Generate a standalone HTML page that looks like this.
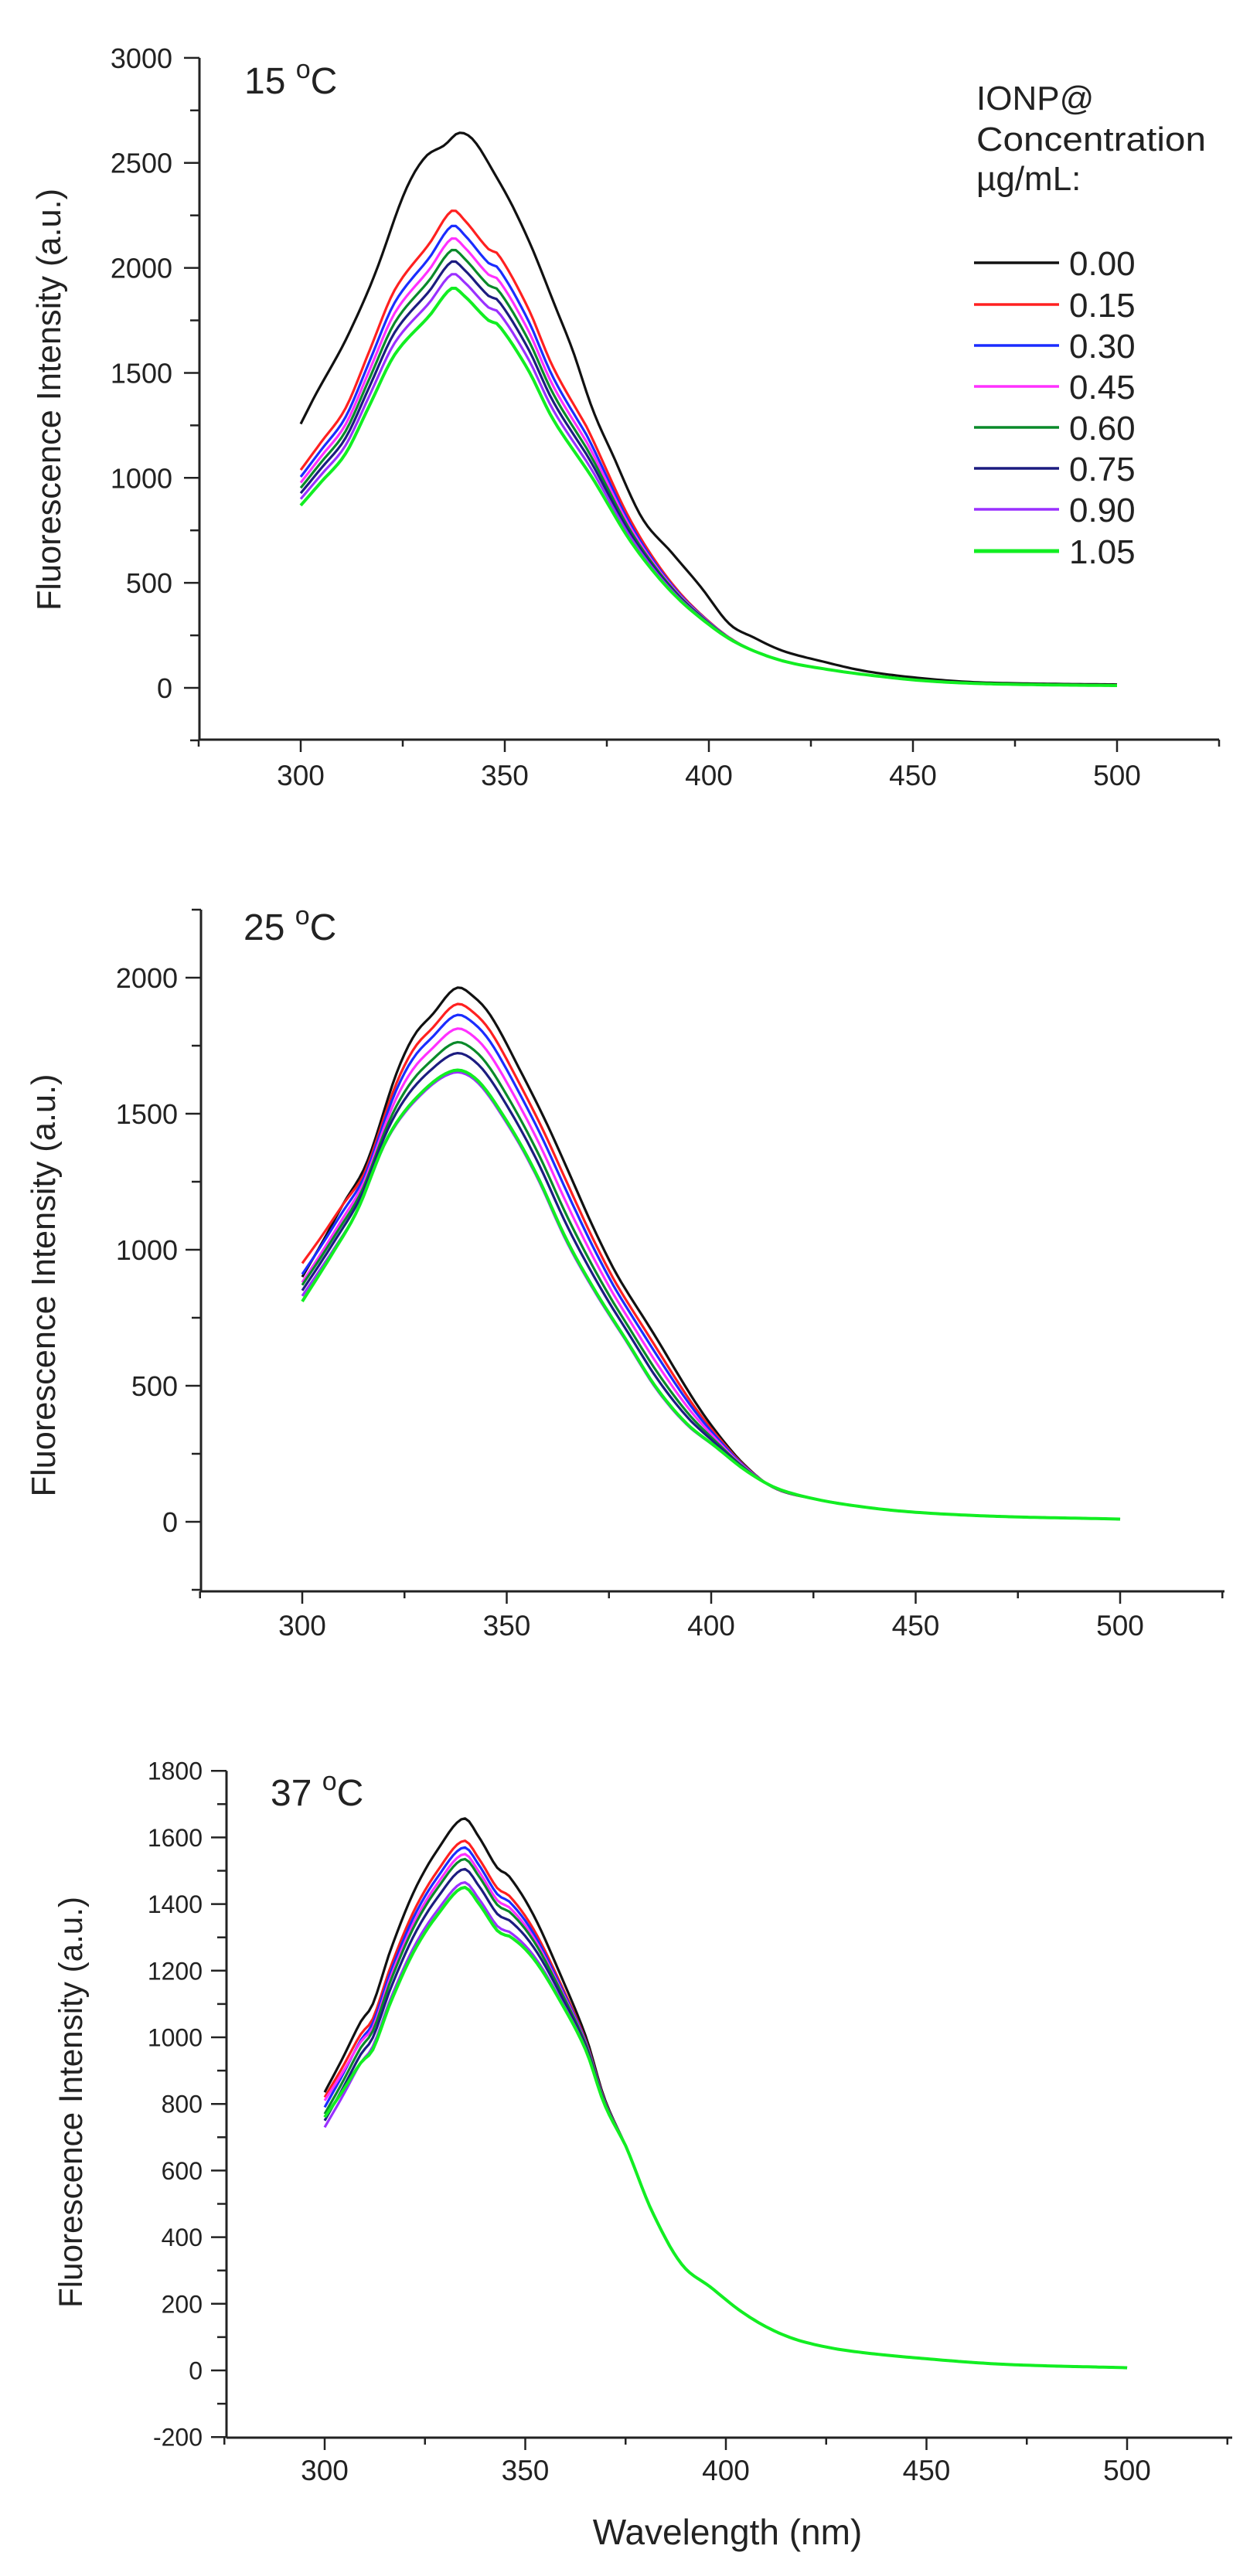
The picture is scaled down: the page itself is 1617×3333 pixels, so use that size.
<!DOCTYPE html>
<html><head><meta charset="utf-8">
<style>
html,body{margin:0;padding:0;background:#fff;}
svg{display:block;}
text{font-family:"Liberation Sans",Arial,sans-serif;fill:#222;}
</style></head>
<body>
<svg id="s" width="1617" height="3333" viewBox="0 0 1617 3333" xmlns="http://www.w3.org/2000/svg">
<rect width="1617" height="3333" fill="#fff"/>
<g id="g"></g>
<!-- titles -->
<text x="316" y="121" font-size="48">15 <tspan font-size="34" dy="-20">o</tspan><tspan dy="20">C</tspan></text>
<text x="315" y="1216" font-size="48">25 <tspan font-size="34" dy="-20">o</tspan><tspan dy="20">C</tspan></text>
<text x="350" y="2336" font-size="48">37 <tspan font-size="34" dy="-20">o</tspan><tspan dy="20">C</tspan></text>
<!-- y titles -->
<text transform="translate(78,517) rotate(-90)" text-anchor="middle" font-size="44" textLength="546" lengthAdjust="spacingAndGlyphs">Fluorescence Intensity (a.u.)</text>
<text transform="translate(71,1663) rotate(-90)" text-anchor="middle" font-size="44" textLength="547" lengthAdjust="spacingAndGlyphs">Fluorescence Intensity (a.u.)</text>
<text transform="translate(106,2720) rotate(-90)" text-anchor="middle" font-size="43" textLength="532" lengthAdjust="spacingAndGlyphs">Fluorescence Intensity (a.u.)</text>
<text x="941" y="3292" text-anchor="middle" font-size="46">Wavelength (nm)</text>
<!-- legend -->
<text x="1263" y="142" font-size="44">IONP@</text>
<text x="1263" y="195" font-size="44" textLength="297" lengthAdjust="spacingAndGlyphs">Concentration</text>
<text x="1263" y="246" font-size="44">µg/mL:</text>
</svg>
<script>
var NS="http://www.w3.org/2000/svg",G=document.getElementById('g');
function el(t,a,txt){var e=document.createElementNS(NS,t);for(var k in a)e.setAttribute(k,a[k]);if(txt!==undefined)e.textContent=txt;G.appendChild(e);return e;}
var COL=['#111111','#ff2020','#1a2cff','#ff30ff','#0a8a2a','#1c1c80','#9a30ff','#12ee22'];
function interp(pts,x){if(x<=pts[0][0])return pts[0][1];for(var i=1;i<pts.length;i++){if(x<=pts[i][0]){var a=pts[i-1],b=pts[i],t=(x-a[0])/(b[0]-a[0]);
 var p0=pts[Math.max(i-2,0)],p3=pts[Math.min(i+1,pts.length-1)];
 // catmull-rom on y with uniform param approx
 var m1=(b[1]-p0[1])/(b[0]-p0[0])*(b[0]-a[0]),m2=(p3[1]-a[1])/(p3[0]-a[0])*(b[0]-a[0]);
 var t2=t*t,t3=t2*t;return (2*t3-3*t2+1)*a[1]+(t3-2*t2+t)*m1+(-2*t3+3*t2)*b[1]+(t3-t2)*m2;}}return pts[pts.length-1][1];}
function axes(P){
 var X=function(l){return P.x0+(l-300)*P.sx},Y=function(v){return P.y0-v*P.sy};
 el('line',{x1:P.ax,y1:P.bot,x2:P.ax,y2:Y(P.top),stroke:'#222','stroke-width':3});
 el('line',{x1:P.ax,y1:P.bot,x2:P.xr,y2:P.bot,stroke:'#222','stroke-width':3});
 for(var v=P.ymin;v<=P.top+1e-6;v+=P.minor){var maj=Math.abs((v/P.major)-Math.round(v/P.major))<1e-6;
  el('line',{x1:P.ax-(maj?20:12),y1:Y(v),x2:P.ax,y2:Y(v),stroke:'#222','stroke-width':2.5});
  if(maj&&v>=P.lmin)el('text',{x:P.lx,y:Y(v)+P.fs*0.36,'text-anchor':'end','font-size':P.fs},String(v));}
 for(var l=275;l<=525;l+=25){var maj=l%50==0;var xx=X(l);
  el('line',{x1:xx,y1:P.bot,x2:xx,y2:P.bot+(maj?16:9),stroke:'#222','stroke-width':2.5});
  if(maj&&l>=300&&l<=500)el('text',{x:xx,y:P.xly+13,'text-anchor':'middle','font-size':37},String(l));}
 return [X,Y];
}
function draw(P,fn){var XY=axes(P),X=XY[0],Y=XY[1];
 for(var i=0;i<8;i++){var d='';for(var l=300;l<=500;l+=1){d+=(l==300?'M':'L')+X(l).toFixed(1)+','+Y(fn(i,l)).toFixed(1);}
  el('path',{d:d,fill:'none',stroke:COL[i],'stroke-width':i==7?4:3.2,'stroke-linejoin':'round'});}
}
// Panel 1
var g1=[[300,869],[305,980],[311,1116],[317,1351],[323,1586],[331.6,1774],[337,1903],[340,1868],[346,1750],[348.5,1727],[355.7,1515],[361.8,1280],[371.5,998],[381,693],[390.8,458],[400.5,294],[407.7,205],[418,129],[430,85],[440,59],[452,35],[464,22],[480,15],[500,11]];
var b1=[[300,1257],[303.7,1398],[311,1656],[318,1961],[325.5,2361],[330.4,2525],[335.2,2584],[338.8,2643],[342.4,2607],[347.3,2455],[352,2290],[357,2079],[361.8,1844],[366.6,1609],[371.5,1327],[376.3,1116],[383.6,810],[390.8,646],[398,481],[405,305],[411,240],[418,177],[428,125],[438,81],[450,50],[464,28],[480,20],[500,16]];
var pk1=[2640,2272,2200,2140,2085,2030,1970,1903];
draw({x0:389,sx:5.28,y0:890,sy:0.2717,ax:258,bot:957,xr:1577,top:3000,ymin:-250,lmin:0,major:500,minor:250,lx:223,fs:36,xly:1003},
 function(i,l){if(i==0)return interp(b1,l);var k=pk1[i]/1903-1;var g=l<370?1:Math.max(0,(410-l)/40);return interp(g1,l)*(1+k*g);});
// legend lines
var ly=[340,394,447,500,553,606,659,713],lt=['0.00','0.15','0.30','0.45','0.60','0.75','0.90','1.05'];
for(var i=0;i<8;i++){el('line',{x1:1260,y1:ly[i],x2:1370,y2:ly[i],stroke:COL[i],'stroke-width':i==7?5:3.5});
 el('text',{x:1383,y:ly[i]+16,'font-size':44},lt[i]);}
// Panel 2
var b2=[[300,900],[305,1030],[310,1168],[315.8,1321],[323,1647],[327.4,1788],[331.8,1864],[337.6,1962],[342,1929],[346.4,1853],[353.7,1647],[359.5,1473],[365.4,1277],[371.2,1081],[377,907],[386,690],[394.7,473],[400.6,343],[407.9,213],[415.2,126],[425,85],[437,55],[450,35],[470,20],[500,10]];
var gr2=[[300,810],[307.7,994],[313.5,1146],[320.7,1407],[328,1560],[336.8,1658],[342.7,1625],[350,1473],[357.3,1277],[364.6,1038],[371.9,842],[379.2,669],[386.5,495],[393.8,364],[401,277],[408.3,190],[415.6,126],[425,85],[437,55],[450,35],[470,20],[500,10]];
var pk2=[1960,1900,1860,1810,1760,1720,1650,1658],st2=[900,950,910,880,870,850,830,810];
draw({x0:391,sx:5.29,y0:1969,sy:0.352,ax:260,bot:2059,xr:1584,top:2250,ymin:-250,lmin:0,major:500,minor:250,lx:230,fs:36,xly:2103},
 function(i,l){var t=(pk2[i]-1658)/(1960-1658);var v=interp(gr2,l)+t*(interp(b2,l)-interp(gr2,l));
  if(l<315){var f=(315-l)/15;var base=interp(gr2,300)+t*(interp(b2,300)-interp(gr2,300));v+=(st2[i]-base)*f;}return v;});
// Panel 3
var b3=[[300,835],[304.6,940],[309,1047],[312,1100],[316.4,1261],[322.3,1439],[328.2,1564],[334.6,1657],[338.6,1598],[343,1509],[346,1483],[352,1368],[359.3,1173],[365.3,995],[369.7,818],[375.6,658],[381.5,480],[388.9,320],[396.3,249],[403.7,178],[411,125],[418.5,89],[430,60],[450,35],[470,18],[500,8]];
var pk3=[1657,1590,1570,1550,1535,1505,1465,1450],st3=[835,820,790,810,770,750,730,760];
draw({x0:420,sx:5.19,y0:3067,sy:0.431,ax:293,bot:3154,xr:1594,top:1800,ymin:-200,lmin:-200,major:200,minor:100,lx:262,fs:32,xly:3196},
 function(i,l){var r=pk3[i]/1657;var g=l<345?1:Math.max(0,(375-l)/30);var v=interp(b3,l)*(1-(1-r)*g);
  if(l<312){var f=(312-l)/12;var base=835*(1-(1-r));v+=(st3[i]-base)*f;}return v;});
</script>
</body></html>
